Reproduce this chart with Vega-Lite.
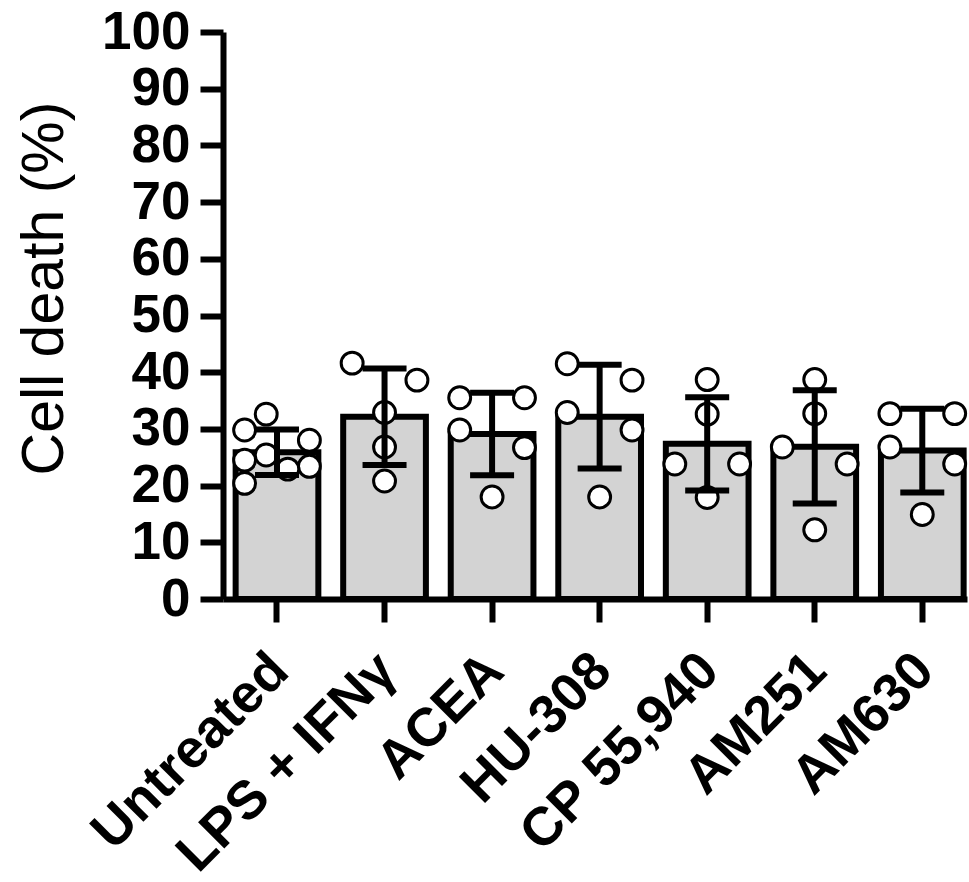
{
  "$schema": "https://vega.github.io/schema/vega-lite/v6.json",
  "autosize": "none",
  "padding": {"left": 223, "top": 32, "right": 2, "bottom": 283},
  "width": 744,
  "height": 567,
  "background": "white",
  "config": {"view": {"stroke": null}, "font": "Liberation Sans"},
  "data": {"values": [
    {"group": "Untreated", "value": 32.6, "slot": 3},
    {"group": "Untreated", "value": 29.8, "slot": 1},
    {"group": "Untreated", "value": 28.0, "slot": 7},
    {"group": "Untreated", "value": 25.4, "slot": 3},
    {"group": "Untreated", "value": 24.5, "slot": 1},
    {"group": "Untreated", "value": 23.4, "slot": 7},
    {"group": "Untreated", "value": 22.9, "slot": 5},
    {"group": "Untreated", "value": 20.4, "slot": 1},
    {"group": "LPS + IFNγ", "value": 41.6, "slot": 1},
    {"group": "LPS + IFNγ", "value": 38.6, "slot": 7},
    {"group": "LPS + IFNγ", "value": 32.9, "slot": 4},
    {"group": "LPS + IFNγ", "value": 26.8, "slot": 4},
    {"group": "LPS + IFNγ", "value": 20.8, "slot": 4},
    {"group": "ACEA", "value": 35.5, "slot": 1},
    {"group": "ACEA", "value": 35.5, "slot": 7},
    {"group": "ACEA", "value": 29.8, "slot": 1},
    {"group": "ACEA", "value": 26.7, "slot": 7},
    {"group": "ACEA", "value": 18.0, "slot": 4},
    {"group": "HU-308", "value": 41.5, "slot": 1},
    {"group": "HU-308", "value": 38.6, "slot": 7},
    {"group": "HU-308", "value": 32.9, "slot": 1},
    {"group": "HU-308", "value": 29.8, "slot": 7},
    {"group": "HU-308", "value": 18.0, "slot": 4},
    {"group": "CP 55,940", "value": 38.7, "slot": 4},
    {"group": "CP 55,940", "value": 32.6, "slot": 4},
    {"group": "CP 55,940", "value": 23.8, "slot": 1},
    {"group": "CP 55,940", "value": 23.8, "slot": 7},
    {"group": "CP 55,940", "value": 17.9, "slot": 4},
    {"group": "AM251", "value": 38.7, "slot": 4},
    {"group": "AM251", "value": 32.7, "slot": 4},
    {"group": "AM251", "value": 26.8, "slot": 1},
    {"group": "AM251", "value": 23.8, "slot": 7},
    {"group": "AM251", "value": 12.2, "slot": 4},
    {"group": "AM630", "value": 32.7, "slot": 1},
    {"group": "AM630", "value": 32.7, "slot": 7},
    {"group": "AM630", "value": 26.8, "slot": 1},
    {"group": "AM630", "value": 23.8, "slot": 7},
    {"group": "AM630", "value": 14.9, "slot": 4}
  ]},
  "encoding": {
    "x": {
      "field": "group",
      "type": "nominal",
      "sort": ["Untreated", "LPS + IFNγ", "ACEA", "HU-308", "CP 55,940", "AM251", "AM630"],
      "scale": {"paddingInner": 0.231, "paddingOuter": 0.0744, "align": 0.79},
      "axis": {
        "title": null,
        "labelAngle": -45,
        "labelAlign": "right",
        "labelBaseline": "middle",
        "labelFont": "Liberation Sans",
        "labelFontWeight": "bold",
        "labelFontSize": 54,
        "labelColor": "black",
        "labelPadding": 40,
        "labelOffset": 3,
        "labelLimit": 0,
        "labelOverlap": false,
        "labelBound": false,
        "tickSize": 23,
        "tickWidth": 6,
        "tickColor": "black",
        "domainWidth": 6,
        "domainColor": "black",
        "grid": false
      }
    }
  },
  "resolve": {"scale": {"xOffset": "independent"}},
  "layer": [
    {
      "mark": {"type": "bar", "fill": "#d3d3d3", "stroke": "black", "strokeWidth": 6},
      "encoding": {
        "y": {
          "aggregate": "mean",
          "field": "value",
          "type": "quantitative",
          "title": "Cell death (%)",
          "scale": {"domain": [0, 100], "nice": false},
          "axis": {
            "values": [0, 10, 20, 30, 40, 50, 60, 70, 80, 90, 100],
            "labelFont": "Liberation Sans",
            "labelFontWeight": "bold",
            "labelFontSize": 53,
            "labelColor": "black",
            "labelPadding": 10,
            "labelOverlap": false,
            "labelBound": false,
            "tickSize": 23,
            "tickWidth": 6,
            "tickColor": "black",
            "domainWidth": 6,
            "domainColor": "black",
            "grid": false,
            "titleFont": "Liberation Sans",
            "titleFontSize": 59,
            "titleFontWeight": "normal",
            "titleColor": "black",
            "titleAngle": -90,
            "titleAlign": "center",
            "titleBaseline": "alphabetic",
            "titleX": -161,
            "titleY": 256
          }
        }
      }
    },
    {
      "mark": {"type": "circle", "fill": "white", "stroke": "black", "strokeWidth": 3, "size": 480, "opacity": 1, "fillOpacity": 1},
      "encoding": {
        "xOffset": {"field": "slot", "type": "ordinal", "scale": {"domain": [1, 2, 3, 4, 5, 6, 7], "paddingInner": 0, "paddingOuter": 0.83}},
        "y": {"field": "value", "type": "quantitative", "title": "Cell death (%)"}
      }
    },
    {
      "mark": {"type": "errorbar", "extent": "stdev", "color": "black", "thickness": 6, "ticks": {"size": 44, "thickness": 6, "color": "black", "opacity": 1}, "rule": {"strokeWidth": 6, "color": "black", "opacity": 1}},
      "encoding": {
        "y": {"field": "value", "type": "quantitative", "title": "Cell death (%)"}
      }
    }
  ]
}
